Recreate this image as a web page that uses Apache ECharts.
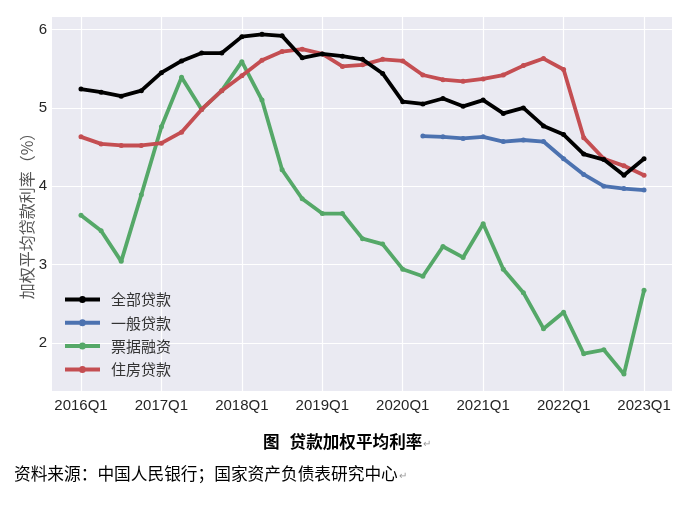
<!DOCTYPE html>
<html>
<head>
<meta charset="utf-8">
<script src="https://cdn.jsdelivr.net/npm/echarts@6/dist/echarts.min.js"></script>
<style>
html,body{margin:0;padding:0;background:#fff;}
#chart{width:677px;height:511px;}
</style>
</head>
<body>
<div id="chart"></div>
<script>
const categories = ['2016Q1','2016Q2','2016Q3','2016Q4','2017Q1','2017Q2','2017Q3','2017Q4',
  '2018Q1','2018Q2','2018Q3','2018Q4','2019Q1','2019Q2','2019Q3','2019Q4',
  '2020Q1','2020Q2','2020Q3','2020Q4','2021Q1','2021Q2','2021Q3','2021Q4',
  '2022Q1','2022Q2','2022Q3','2022Q4','2023Q1'];
const allLoans = [5.24,5.20,5.15,5.22,5.45,5.60,5.70,5.70,5.91,5.94,5.92,5.64,5.69,5.66,5.62,5.44,
  5.08,5.05,5.12,5.02,5.10,4.93,5.00,4.77,4.66,4.41,4.34,4.14,4.35];
const generalLoans = [null,null,null,null,null,null,null,null,null,null,null,null,null,null,null,null,
  null,4.64,4.63,4.61,4.63,4.57,4.59,4.57,4.35,4.15,4.00,3.97,3.95];
const billFinancing = [3.63,3.43,3.04,3.89,4.76,5.39,4.98,5.22,5.59,5.10,4.21,3.84,3.65,3.65,3.33,3.26,
  2.94,2.85,3.23,3.09,3.52,2.94,2.64,2.18,2.39,1.86,1.91,1.60,2.67];
const mortgage = [4.63,4.54,4.52,4.52,4.55,4.69,4.98,5.22,5.41,5.61,5.72,5.75,5.69,5.53,5.55,5.62,
  5.60,5.42,5.36,5.34,5.37,5.42,5.54,5.63,5.49,4.62,4.35,4.26,4.14];
const seriesNames = ['全部贷款','一般贷款','票据融资','住房贷款'];
const xTickIndices = [0,4,8,12,16,20,24,28];
const yTicks = [2,3,4,5,6];

const colors = ['#000000','#4C72B0','#55A868','#C44E52'];
const toPairs = arr => arr.map((v,i) => [i, v]);
const allSeries = [allLoans, generalLoans, billFinancing, mortgage];

const chart = echarts.init(document.getElementById('chart'), null, {renderer:'canvas'});
const latin = 'Liberation Sans, Arial, sans-serif';
const cjk = '"Noto Sans CJK SC", sans-serif';
const legendIcon = 'path://M0,1.5 H35 V5.5 H0 Z M17.5,0 A3.5,3.5 0 1,1 17.49,0 Z';

chart.setOption({
  animation:false,
  backgroundColor:'#ffffff',
  grid:{left:52,right:5,top:17,bottom:120,show:true,backgroundColor:'#EAEAF2',borderWidth:0,containLabel:false},
  xAxis:{
    type:'value',min:-1.442,max:29.39,
    axisLine:{show:false},
    axisTick:{show:false,customValues:xTickIndices},
    axisLabel:{customValues:xTickIndices,formatter:v=>categories[Math.round(v)],
      color:'#262626',fontSize:15,fontFamily:latin,margin:7},
    splitLine:{show:true,lineStyle:{color:'#ffffff',width:1.2}}
  },
  yAxis:{
    type:'value',min:1.384,max:6.161,
    name:'加权平均贷款利率（%）',nameLocation:'middle',nameGap:17,nameRotate:90,
    nameMoveOverlap:false,
    nameTextStyle:{fontSize:16,color:'#555555',fontFamily:cjk,padding:[0,16,0,0]},
    axisLine:{show:false},
    axisTick:{show:false,customValues:yTicks},
    axisLabel:{customValues:yTicks,color:'#262626',fontSize:15,fontFamily:latin,margin:5},
    splitLine:{show:true,lineStyle:{color:'#ffffff',width:1.2}}
  },
  legend:{
    orient:'vertical',left:65,top:292,padding:0,
    itemWidth:35,itemHeight:7,itemGap:8.3,
    textStyle:{fontSize:15,color:'#333333',fontFamily:cjk,padding:[0,0,0,6]},
    data:seriesNames.map(n=>({name:n,icon:legendIcon}))
  },
  series: allSeries.map((arr,k)=>({
    name:seriesNames[k],type:'line',data:toPairs(arr),
    symbol:'circle',symbolSize:5,showSymbol:true,
    connectNulls:false,
    lineStyle:{width:3.8,color:colors[k]},
    itemStyle:{color:colors[k]},
    emphasis:{disabled:true},
    z:[4,2,1,3][k]
  })),
  graphic:[
    {type:'text',left:263,top:433,style:{
      text:'{a|图}{c|贷款加权平均利率}{b|↵}',
      rich:{a:{fontSize:16.6,fontWeight:'bold',fontFamily:cjk,fill:'#000'},
            c:{fontSize:16.6,fontWeight:'bold',fontFamily:cjk,fill:'#000',padding:[0,0,0,10]},
            b:{fontSize:10,fill:'#999',fontFamily:latin,padding:[6,0,0,1]}}
    }},
    {type:'text',left:14,top:465,style:{
      text:'{a|资料来源：中国人民银行；国家资产负债表研究中心}{b|↵}',
      rich:{a:{fontSize:16.7,fontFamily:cjk,fill:'#000'},
            b:{fontSize:10,fill:'#999',fontFamily:latin,padding:[6,0,0,1]}}
    }}
  ]
});
</script>
</body>
</html>
